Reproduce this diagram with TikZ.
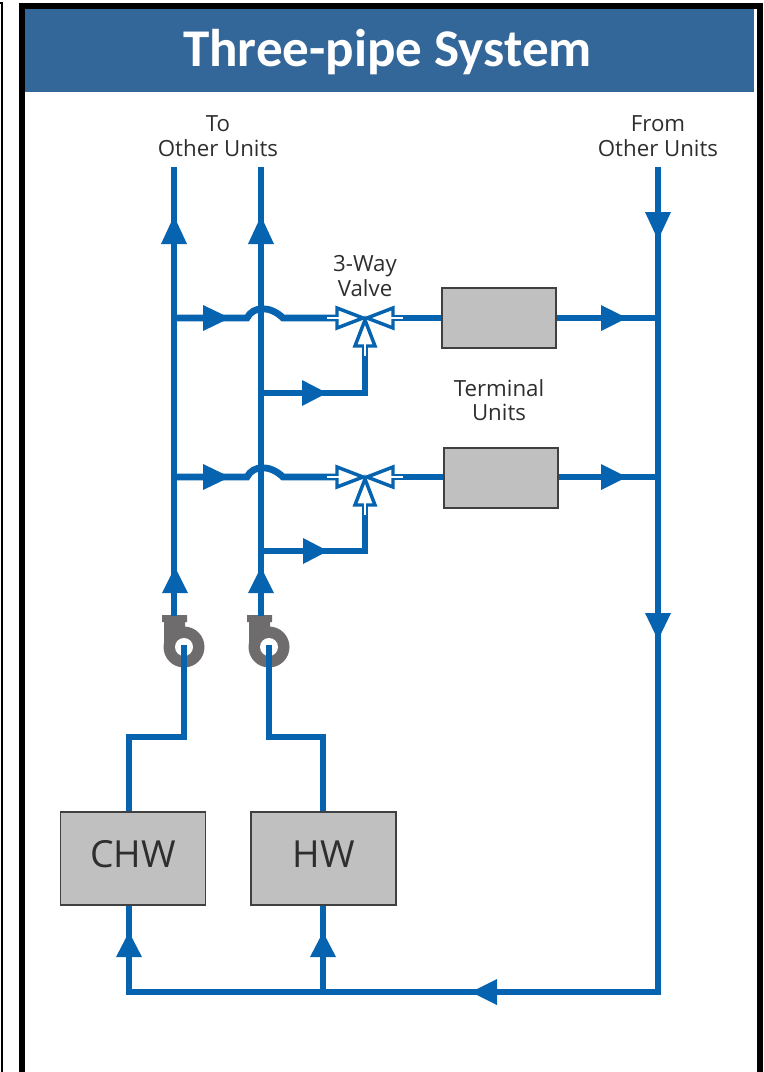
\documentclass[tikz,border=0pt]{standalone}
\usepackage{fontspec}
\setmainfont{Open Sans}
\newfontfamily\titlefont{Carlito}
\definecolor{pipeblue}{HTML}{0563B0}
\definecolor{headblue}{HTML}{336699}
\definecolor{pumpgrey}{HTML}{6E6C6C}
\definecolor{boxgrey}{HTML}{C0C0C0}
\definecolor{labelgrey}{HTML}{2E2E2E}
\newcommand{\flowtip}[3]{\fill[pipeblue,shift={(#1)},rotate=#2] (-#3,-13) -- (0,0) -- (-#3,13) -- cycle;}
\newcommand{\valveleg}[2]{%
  \begin{scope}[shift={(#1)},rotate=#2]
  \draw[pipeblue,line width=2.6pt,fill=white,miter limit=10] (-28,-10) -- (-2,0) -- (-28,10) -- cycle;
  \draw[white,line width=2.2pt] (-38,0) -- (-15,0);
  \end{scope}}
\newcommand{\pumpshape}[1]{%
  \begin{scope}[shift={(#1)}]
  \fill[pumpgrey] (-22,-32) -- (3,-32) -- (3,-25) -- (1,-25) -- (1,-20) -- (-20,-4) -- (-20,-25) -- (-22,-25) -- cycle;
  \fill[pumpgrey] (0,0) circle [radius=20.5];
  \fill[white] (0,0) circle [radius=9];
  \end{scope}}
\tikzset{
  x=0.75pt,y=-0.75pt,
  pipe/.style={draw=pipeblue,line width=5.1pt},
  unitbox/.style={draw=black!75,line width=1.1pt,fill=boxgrey,rectangle,inner sep=0pt,text=labelgrey},
  lbl/.style={text=labelgrey,font=\fontsize{16.7}{18.5}\selectfont,align=center,inner sep=0pt},
}
\begin{document}
\begin{tikzpicture}
\useasboundingbox (0,0) rectangle (764,1072);
% frames
\draw[black,line width=1.3pt] (0,3) -- (2,3) -- (2,1072);
\fill[black] (19,3) rectangle (763,9);
\fill[black] (19,3) rectangle (25,1072);
\fill[black] (757,3) rectangle (763,1072);
\node[rectangle,fill=headblue,minimum width=546.75pt,minimum height=62.25pt,inner sep=0pt] (title) at (389.5,50.5) {};
\node[text=white,inner sep=0pt,font=\titlefont\bfseries\fontsize{39.8}{42}\selectfont] (titletext) at (387.5,52) {Three-pipe System};
% labels
\node[lbl] (toL) at (218,136) {To\\Other Units};
\node[lbl] (fromL) at (658,136) {From\\Other Units};
\node[lbl] (valveL) at (365,276) {3-Way\\Valve};
\node[lbl] (termL) at (499,400) {Terminal\\Units};
% boxes
\node[unitbox,minimum width=85.5pt,minimum height=45pt] (t1) at (499,318) {};
\node[unitbox,minimum width=85.5pt,minimum height=45pt] (t2) at (501,478) {};
\node[unitbox,minimum width=109pt,minimum height=69.5pt] (chw) at (133,858.5) {};
\node[unitbox,minimum width=108.5pt,minimum height=69.5pt] (hw) at (323.5,858.5) {};
\node[text=labelgrey,inner sep=0pt,font=\fontsize{28}{30}\selectfont] (chwT) at (133,854) {CHW};
\node[text=labelgrey,inner sep=0pt,font=\fontsize{28}{30}\selectfont] (hwT) at (324,854) {HW};
% coordinates
\coordinate (aTop) at (174,167); \coordinate (aBot) at (174,616);
\coordinate (bTop) at (261,167); \coordinate (bBot) at (261,616);
\coordinate (rTop) at (658,167); \coordinate (rBot) at (658,992);
\coordinate (lBot) at (129,992); \coordinate (hBot) at (323,992);
\coordinate (v1) at (365,318); \coordinate (v2) at (365,477);
\coordinate (p1) at (184,647); \coordinate (p2) at (269,647);
% pumps
\pumpshape{p1}
\pumpshape{p2}
% main pipes
\draw[pipe] (aTop) -- (aBot);
\draw[pipe] (bTop) -- (bBot);
\draw[pipe] (rTop) -- (rBot) -- (lBot) -- (lBot |- chw.south);
\draw[pipe] (hBot) -- (hBot |- hw.south);
\draw[pipe] (chw.north -| lBot) -- (129,737) -- (184,737) -- (184,645);
\draw[pipe] (hw.north -| hBot) -- (323,737) -- (269,737) -- (269,645);
% branches
\foreach \vv/\tt in {v1/t1,v2/t2}{
  \draw[pipe] (aTop |- \vv) -- (247,0 |- \vv) .. controls ([yshift=9pt]253,0 |- \vv) and ([yshift=9.5pt]270,0 |- \vv) .. (283,0 |- \vv) -- (337,0 |- \vv);
  \draw[pipe] (393,0 |- \vv) -- (\tt.west |- \vv);
  \draw[pipe] (\tt.east |- \vv) -- (rTop |- \vv);
}
\coordinate (j1) at (261,393); \coordinate (j2) at (261,551);
\draw[pipe] (j1) -- (365,393) -- (365,346);
\draw[pipe] (j2) -- (365,551) -- (365,505);
% valves
\foreach \vv in {v1,v2}{
  \valveleg{\vv}{0}
  \valveleg{\vv}{180}
  \valveleg{\vv}{90}
}
% flow arrows
\flowtip{174,216}{90}{28}
\flowtip{261,216}{90}{28}
\flowtip{175,567}{90}{26}
\flowtip{261,567}{90}{26}
\flowtip{658,240}{-90}{28}
\flowtip{658,640}{-90}{27}
\flowtip{230,318}{0}{27}
\flowtip{230,477}{0}{27}
\flowtip{327,393}{0}{25}
\flowtip{328,551}{0}{25}
\flowtip{627,318}{0}{26}
\flowtip{627,477}{0}{26}
\flowtip{129,932}{90}{25}
\flowtip{323,932}{90}{25}
\flowtip{471,992}{180}{26}
\end{tikzpicture}
\end{document}
